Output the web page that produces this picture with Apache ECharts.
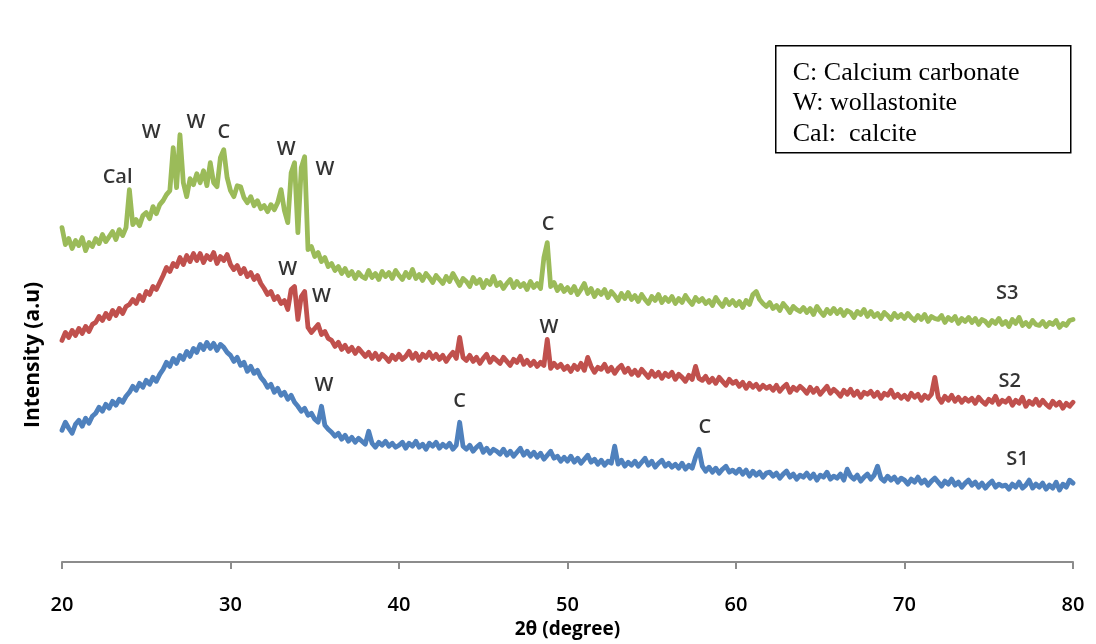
<!DOCTYPE html>
<html>
<head>
<meta charset="utf-8">
<title>XRD patterns S1–S3</title>
<script src="https://cdn.jsdelivr.net/npm/echarts@6/dist/echarts.min.js"></script>
<style>
  html, body { margin: 0; padding: 0; background: #ffffff; }
  #chart { width: 1096px; height: 644px; }
</style>
</head>
<body>
<div id="chart"></div>
<script>
// Scan grid: 2θ from 20° to 80° in 0.2° steps
const thetaStart = 20;
const thetaStep = 0.2;
const xTicks = [20, 30, 40, 50, 60, 70, 80];

// Intensity (a.u.) per scan step, each series already vertically offset
const s3 = [
  335, 318, 324, 314, 322, 317, 325, 312, 320, 316,
  324, 319, 328, 321, 326, 331, 323, 333, 327, 335,
  373, 338, 343, 337, 347, 350, 344, 356, 349, 358,
  362, 368, 372, 415, 375, 428, 380, 366, 384, 378,
  389, 380, 392, 377, 400, 380, 376, 405, 413, 385,
  372, 366, 377, 376, 365, 360, 366, 357, 362, 354,
  357, 351, 358, 353, 360, 373, 352, 340, 390, 400,
  330, 395, 406, 313, 316, 306, 310, 301, 305, 296,
  299, 292, 296, 289, 294, 287, 291, 284, 290, 286,
  284, 292, 285, 289, 283, 291, 286, 290, 284, 292,
  287, 283, 290, 285, 293, 284, 288, 282, 289, 285,
  280, 287, 283, 279, 286, 281, 289, 283, 277, 284,
  281, 276, 285, 279, 283, 275, 282, 278, 286, 277,
  280, 274, 279, 283, 275, 281, 276, 279, 273, 281,
  275, 279, 274, 305, 320, 276, 280, 272, 277, 271,
  275, 270, 276, 268, 273, 279, 269, 274, 266, 272,
  268, 273, 265, 271, 267, 262, 269, 264, 270, 263,
  267, 261, 268, 263, 259, 266, 262, 268, 260, 265,
  261, 266, 259, 264, 260, 267, 262, 258, 265, 261,
  264, 259, 262, 257, 265, 260, 256, 263, 258, 262,
  257, 261, 255, 262, 258, 268, 271, 263, 259, 256,
  260, 254, 257, 252, 259, 255, 250, 256, 253, 251,
  255, 250, 254, 248, 256, 251, 247, 253, 249, 254,
  249, 253, 247, 252, 250, 245, 251, 248, 253, 246,
  251, 246, 249, 244, 250, 247, 243, 249, 245, 248,
  244, 249, 245, 242, 247, 243, 248, 241, 246, 244,
  243, 247, 240, 245, 242, 246, 239, 244, 241, 245,
  240, 244, 238, 243, 241, 237, 242, 239, 244, 238,
  241, 236, 243, 239, 245, 237, 240, 236, 242, 238,
  237, 241, 236, 240, 238, 242, 235, 239, 237, 242,
  243
];

const s2 = [
  222, 230, 225, 232, 227, 234, 229, 236, 231, 238,
  240, 246, 242, 249, 244, 252, 247, 254, 249, 256,
  258, 263, 259, 267, 262, 271, 268, 276, 273, 280,
  287, 295, 291, 299, 296, 305, 298, 307, 301, 309,
  302, 309, 300, 307, 303, 310, 299, 306, 302, 308,
  298, 293, 297, 289, 294, 286, 290, 283, 287, 279,
  274, 268, 271, 263, 266, 259, 262, 253, 273, 276,
  243, 266, 271, 235, 230, 234, 238, 228, 231, 224,
  222, 216, 220, 213, 217, 211, 215, 209, 214, 210,
  206, 210, 204, 209, 203, 208, 205, 201, 207, 203,
  208, 203, 206, 211, 204, 209, 202, 208, 205, 210,
  204, 208, 203, 207, 201, 206, 210, 204, 225, 205,
  202, 207, 201, 205, 199, 204, 208, 200, 205, 202,
  199, 205, 201, 197, 203, 200, 206, 198, 202, 197,
  201, 196, 200, 197, 223, 194, 199, 195, 198, 193,
  196, 191, 197, 193, 199, 192, 205, 196, 190, 195,
  193, 198, 191, 195, 189, 194, 197, 190, 194, 188,
  192, 187, 193, 189, 185, 191, 186, 190, 184, 189,
  186, 190, 183, 188, 185, 181, 187, 183, 196, 184,
  182, 186, 180, 184, 179, 185, 181, 177, 183, 179,
  181, 176, 180, 174, 179, 175, 178, 173, 177, 174,
  176, 172, 177, 171, 175, 178, 170, 175, 172, 176,
  173, 169, 175, 170, 174, 168, 172, 176, 169, 173,
  170, 166, 172, 168, 173, 167, 171, 165, 170, 168,
  171, 166, 170, 164, 169, 167, 172, 165, 168, 164,
  167, 163, 169, 165, 168, 162, 167, 164, 168, 185,
  165, 160, 166, 162, 167, 161, 165, 160, 164, 161,
  164, 159, 165, 161, 158, 163, 160, 166, 158, 162,
  160, 164, 157, 162, 159, 165, 156, 161, 158, 163,
  157, 162, 158, 155, 161, 157, 160, 154, 159, 156,
  160
];

const s1 = [
  132, 140, 134, 129, 138, 142, 136, 144, 139, 146,
  149, 155, 151, 158, 154, 161, 157, 163, 160, 166,
  170, 176, 172, 179, 175, 182, 178, 185, 181, 188,
  193, 200, 196, 204, 199, 207, 203, 211, 206, 214,
  210, 218, 213, 220, 214, 219, 212, 218, 215, 210,
  207, 201, 205, 197, 200, 191, 196, 189, 192, 185,
  181, 175, 178, 170, 174, 167, 170, 163, 167, 160,
  156, 151, 154, 147, 149, 143, 140, 156, 137, 133,
  130, 126, 129, 123, 127, 121, 125, 120, 124, 121,
  118, 131, 119, 115, 120, 117, 121, 116, 119, 115,
  117, 120, 114, 119, 116, 121, 115, 118, 113, 119,
  116, 120, 114, 118, 115, 119, 113, 117, 140, 116,
  113, 117, 111, 115, 118, 110, 114, 109, 113, 111,
  108, 113, 107, 111, 106, 110, 114, 107, 111, 106,
  110, 105, 109, 103, 107, 111, 104, 106, 101, 105,
  101, 106, 100, 104, 99, 103, 107, 100, 103, 98,
  102, 97, 101, 99, 116, 98, 102, 96, 100, 97,
  101, 96, 100, 104, 97, 101, 95, 99, 102, 96,
  99, 95, 98, 94, 99, 93, 97, 94, 105, 113,
  96, 91, 95, 90, 94, 89, 93, 96, 90, 92,
  89, 93, 88, 92, 86, 91, 87, 90, 85, 89,
  90, 86, 89, 84, 88, 91, 85, 88, 83, 87,
  85, 89, 84, 88, 82, 87, 85, 90, 83, 86,
  84, 88, 82, 93, 86, 83, 87, 81, 85, 88,
  83, 87, 96, 84, 81, 86, 82, 85, 80, 84,
  82, 78, 83, 80, 85, 79, 82, 77, 81, 84,
  80, 76, 81, 78, 83, 77, 80, 75, 79, 82,
  77, 80, 75, 79, 74, 78, 81, 75, 78, 76,
  77, 73, 78, 75, 80, 74, 77, 82, 74, 78,
  75, 79, 73, 77, 74, 80, 72, 78, 75, 82,
  79
];

// Phase markers: [2θ, intensity, text]
const peakMarks = [
  [23.3, 385, 'Cal'], [25.3, 430, 'W'], [27.95, 441, 'W'], [29.6, 430, 'C'],
  [33.3, 413, 'W'], [35.6, 393, 'W'], [48.85, 338, 'C'],
  [33.4, 293, 'W'], [35.4, 266, 'W'], [48.9, 235, 'W'],
  [35.55, 177, 'W'], [43.6, 161, 'C'], [58.15, 135, 'C']
];
const sampleNames = [[76.1, 269, 'S3'], [76.25, 181, 'S2'], [76.7, 103, 'S1']];
const keyLines = ['C: Calcium carbonate', 'W: wollastonite', 'Cal:  calcite'];

const colors = { s1: '#4F81BD', s2: '#C0504D', s3: '#9BBB59' };

function toPairs(values) {
  return values.map((v, i) => [+(thetaStart + i * thetaStep).toFixed(2), v]);
}

function pattern(name, values, color) {
  return {
    name: name,
    type: 'line',
    data: toPairs(values),
    showSymbol: false,
    symbol: 'none',
    lineStyle: { color: color, width: 4.8, join: 'round', cap: 'round' },
    z: 2
  };
}

function textLayer(items, size) {
  return {
    type: 'scatter',
    data: items.map(d => ({ value: [d[0], d[1]], label: { formatter: d[2] } })),
    symbolSize: 0,
    silent: true,
    z: 5,
    label: {
      show: true,
      position: 'inside',
      color: '#000',
      fontFamily: '"Open Sans", sans-serif',
      fontWeight: 600,
      fontSize: size
    }
  };
}

const chart = echarts.init(document.getElementById('chart'));
chart.setOption({
  animation: false,
  backgroundColor: '#ffffff',
  grid: { left: 62, right: 23, top: 13, bottom: 81 },
  xAxis: {
    type: 'value',
    min: xTicks[0],
    max: xTicks[xTicks.length - 1],
    interval: 10,
    name: '2θ (degree)',
    nameLocation: 'middle',
    nameGap: 58,
    nameTextStyle: { fontFamily: '"Open Sans", sans-serif', fontWeight: 'bold', fontSize: 19, color: '#000' },
    axisLine: { lineStyle: { color: '#8c8c8c', width: 2 } },
    axisTick: { show: true, length: 7, lineStyle: { color: '#8c8c8c', width: 2 } },
    axisLabel: { margin: 33, fontFamily: '"Open Sans", sans-serif', fontSize: 20, fontWeight: 600, color: '#000' },
    splitLine: { show: false }
  },
  yAxis: {
    type: 'value',
    min: 0,
    max: 550,
    axisLine: { show: false },
    axisTick: { show: false },
    axisLabel: { show: false },
    splitLine: { show: false }
  },
  series: [
    pattern('S1', s1, colors.s1),
    pattern('S2', s2, colors.s2),
    pattern('S3', s3, colors.s3),
    textLayer(peakMarks, 20),
    textLayer(sampleNames, 20)
  ],
  graphic: [
    {
      type: 'text',
      x: 33,
      y: 355,
      rotation: Math.PI / 2,
      style: {
        text: 'Intensity (a.u)',
        font: 'bold 21px "Open Sans", sans-serif',
        fill: '#000',
        align: 'center',
        verticalAlign: 'middle'
      }
    },
    {
      type: 'group',
      left: 775,
      top: 45,
      children: [
        { type: 'rect', shape: { x: 0, y: 0, width: 295, height: 107 },
          style: { fill: '#fff', stroke: '#000', lineWidth: 1.5 } }
      ].concat(keyLines.map((t, i) => ({
        type: 'text',
        x: 17,
        y: 27 + i * 30.5,
        style: { text: t, font: '26px "Liberation Serif", serif', fill: '#000', verticalAlign: 'middle' }
      })))
    }
  ]
});
</script>
</body>
</html>
